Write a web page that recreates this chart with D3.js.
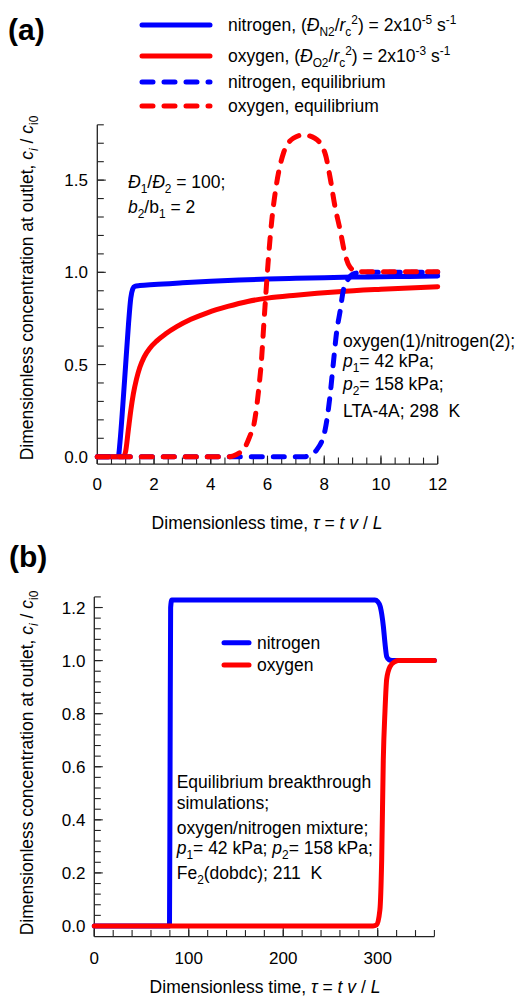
<!DOCTYPE html>
<html><head><meta charset="utf-8">
<script src="https://cdn.jsdelivr.net/npm/d3@7"></script>
<style>
html,body{margin:0;padding:0;background:#fff;}
svg{display:block;font-family:"Liberation Sans",Arial,sans-serif;}
</style></head>
<body>
<svg id="chart" width="521" height="997"></svg>
<script>
// ---------------- Panel (a) data ----------------
const aN2KinTau = [0, 0.74, 0.8, 0.9, 1.0, 1.1, 1.18, 1.25, 1.32, 1.5, 2, 3, 4, 5, 6, 7, 8, 9, 10, 11, 12];
const aN2KinVal = [0, 0, 0.08, 0.28, 0.5, 0.72, 0.86, 0.91, 0.924, 0.928, 0.934, 0.943, 0.951, 0.958, 0.964, 0.968, 0.971, 0.974, 0.976, 0.978, 0.98];
const aO2KinTau = [0, 0.92, 1.0, 1.09, 1.18, 1.27, 1.38, 1.5, 1.65, 1.86, 2.09, 2.4, 2.8, 3.3, 3.9, 4.6, 5.3, 6.0, 7, 8.5, 10, 12];
const aO2KinVal = [0, 0, 0.03, 0.14, 0.25, 0.34, 0.42, 0.485, 0.54, 0.59, 0.627, 0.665, 0.705, 0.745, 0.782, 0.815, 0.842, 0.86, 0.876, 0.895, 0.908, 0.922];
const aN2EqTau = [0, 7.3, 7.5, 7.73, 8.03, 8.2, 8.32, 8.44, 8.56, 8.67, 8.85, 9.1, 9.5, 12];
const aN2EqVal = [0, 0, 0.01, 0.036, 0.145, 0.325, 0.506, 0.68, 0.79, 0.9, 0.965, 0.995, 1.0, 1.0];
const aO2EqTau = [0, 4.6, 4.8, 5.0, 5.2, 5.4, 5.5, 5.6, 5.7, 5.8, 5.85, 5.91, 6.03, 6.15, 6.32, 6.56, 6.91, 7.26, 7.67, 8.03, 8.2, 8.38, 8.56, 8.73, 8.9, 9.14, 9.5, 12];
const aO2EqVal = [0, 0, 0.005, 0.02, 0.05, 0.12, 0.16, 0.25, 0.38, 0.55, 0.67, 0.81, 1.07, 1.28, 1.48, 1.645, 1.727, 1.745, 1.727, 1.645, 1.52, 1.356, 1.23, 1.1, 1.03, 1.005, 1.003, 1.003];
const aXTicks = [0, 2, 4, 6, 8, 10, 12];
const aYTicks = [0, 0.5, 1.0, 1.5];

// ---------------- Panel (b) data ----------------
const bN2Tau = [0, 79.6, 80.2, 80.8, 82, 297, 300, 302.7, 306, 307.7, 309.5, 312, 315, 360];
const bN2Val = [0, 0, 0.6, 1.2, 1.228, 1.228, 1.222, 1.203, 1.128, 1.065, 1.015, 1.003, 1.0, 1.0];
const bO2Tau = [0, 295, 298.9, 302.3, 304.2, 305.9, 307.7, 309.5, 313, 318.3, 322, 360];
const bO2Val = [0, 0, 0.004, 0.06, 0.25, 0.625, 0.81, 0.93, 0.977, 0.996, 1.0, 1.0];
const bXTicks = [0, 100, 200, 300];
const bYTicks = [0, 0.2, 0.4, 0.6, 0.8, 1.0, 1.2];

const BLUE = "#0000ff", RED = "#ff0000";
const svg = d3.select("#chart");

// rich text helper
function rich(parent, x, y, segs, size, opts = {}) {
  const t = parent.append("text").attr("x", x).attr("y", y)
    .attr("font-size", size).attr("fill", "#000");
  if (opts.anchor) t.attr("text-anchor", opts.anchor);
  if (opts.transform) t.attr("transform", opts.transform);
  let cur = 0;
  segs.forEach(s => {
    if (typeof s === "string") s = { t: s };
    const target = s.s === "sub" ? 0.3 * size : s.s === "sup" ? -0.42 * size : 0;
    const ts = t.append("tspan").text(s.t);
    if (target !== cur) { ts.attr("dy", target - cur); cur = target; }
    if (s.s) ts.attr("font-size", size * 0.68);
    if (s.i) ts.attr("font-style", "italic");
  });
  return t;
}

function drawAxes(g, x, y, xMajor, xMinor, yMajor, yMinor, xFmt, yFmt, labelXRight, xLabelY) {
  const [x0, x1] = x.range();
  const [yb, yt] = y.range();
  g.append("line").attr("x1", x0).attr("x2", x1).attr("y1", yb).attr("y2", yb)
    .attr("stroke", "#222").attr("stroke-width", 1.3);
  g.append("line").attr("x1", x0).attr("x2", x0).attr("y1", yb).attr("y2", yt)
    .attr("stroke", "#222").attr("stroke-width", 1.3);
  xMinor.forEach(v => g.append("line").attr("x1", x(v)).attr("x2", x(v)).attr("y1", yb).attr("y2", yb - 6.5)
    .attr("stroke", "#222").attr("stroke-width", 1.1));
  xMajor.forEach(v => {
    g.append("line").attr("x1", x(v)).attr("x2", x(v)).attr("y1", yb).attr("y2", yb - 8.5)
      .attr("stroke", "#222").attr("stroke-width", 1.1);
    g.append("text").attr("x", x(v)).attr("y", xLabelY).attr("text-anchor", "middle")
      .attr("font-size", 17).text(xFmt(v));
  });
  yMinor.forEach(v => g.append("line").attr("x1", x0).attr("x2", x0 + 6.5).attr("y1", y(v)).attr("y2", y(v))
    .attr("stroke", "#222").attr("stroke-width", 1.1));
  yMajor.forEach(v => {
    g.append("line").attr("x1", x0).attr("x2", x0 + 8.5).attr("y1", y(v)).attr("y2", y(v))
      .attr("stroke", "#222").attr("stroke-width", 1.1);
    g.append("text").attr("x", labelXRight).attr("y", y(v) + 6).attr("text-anchor", "end")
      .attr("font-size", 17).text(yFmt(v));
  });
}

function series(g, x, y, tau, val, color, dashed) {
  const pts = tau.map((t, i) => [t, val[i]]);
  const line = d3.line().x(d => x(d[0])).y(d => y(d[1])).curve(d3.curveMonotoneX);
  const p = g.append("path").attr("d", line(pts)).attr("fill", "none")
    .attr("stroke", color).attr("stroke-width", 5)
    .attr("stroke-linecap", "round").attr("stroke-linejoin", "round");
  if (dashed) p.attr("stroke-dasharray", "11,11");
}

const ylabelSegs = ["Dimensionless concentration at outlet, ", { t: "c", i: true }, { t: "i", s: "sub", i: true }, " / ", { t: "c", i: true }, { t: "i0", s: "sub" }];
const xlabelSegs = ["Dimensionless time, ", { t: "τ", i: true }, " = ", { t: "t v", i: true }, " / ", { t: "L", i: true }];

// ================= Panel (a) =================
{
  const g = svg.append("g");
  const x = d3.scaleLinear().domain([0, 12]).range([97.3, 437.7]);
  const y = d3.scaleLinear().domain([-0.04, 1.8]).range([464.1, 124.8]);
  drawAxes(g, x, y, aXTicks, d3.range(0, 12.01, 0.5), aYTicks, d3.range(0, 1.81, 0.1),
    d => d3.format("d")(d), d => d3.format(".1f")(d), 88, 490);

  series(g, x, y, aN2KinTau, aN2KinVal, BLUE, false);
  series(g, x, y, aO2KinTau, aO2KinVal, RED, false);
  series(g, x, y, aN2EqTau, aN2EqVal, BLUE, true);
  series(g, x, y, aO2EqTau, aO2EqVal, RED, true);

  g.append("text").attr("x", 8).attr("y", 40).attr("font-size", 30).attr("font-weight", "bold").text("(a)");

  // legend
  const leg = [
    { c: BLUE, d: false, y: 25, segs: ["nitrogen, (", { t: "Đ", i: true }, { t: "N2", s: "sub" }, "/", { t: "r", i: true }, { t: "c", s: "sub" }, { t: "2", s: "sup" }, ") = 2x10", { t: "-5", s: "sup" }, " s", { t: "-1", s: "sup" }] },
    { c: RED, d: false, y: 56, segs: ["oxygen, (", { t: "Đ", i: true }, { t: "O2", s: "sub" }, "/", { t: "r", i: true }, { t: "c", s: "sub" }, { t: "2", s: "sup" }, ") = 2x10", { t: "-3", s: "sup" }, " s", { t: "-1", s: "sup" }] },
    { c: BLUE, d: true, y: 82, segs: ["nitrogen, equilibrium"] },
    { c: RED, d: true, y: 106, segs: ["oxygen, equilibrium"] }
  ];
  leg.forEach(l => {
    const ln = g.append("line").attr("x1", 142).attr("x2", 210).attr("y1", l.y).attr("y2", l.y)
      .attr("stroke", l.c).attr("stroke-width", 5).attr("stroke-linecap", "round");
    if (l.d) ln.attr("stroke-dasharray", "11,11");
    rich(g, 228, l.y + 6, l.segs, 17.5);
  });

  rich(g, 128, 188, [{ t: "Đ", i: true }, { t: "1", s: "sub" }, "/", { t: "Đ", i: true }, { t: "2", s: "sub" }, " = 100;"], 17.5);
  rich(g, 128, 213, [{ t: "b", i: true }, { t: "2", s: "sub" }, "/b", { t: "1", s: "sub" }, " = 2"], 17.5);

  rich(g, 343, 346.5, ["oxygen(1)/nitrogen(2);"], 17.5);
  rich(g, 343, 367, [{ t: "p", i: true }, { t: "1", s: "sub" }, "= 42 kPa;"], 17.5);
  rich(g, 343, 390, [{ t: "p", i: true }, { t: "2", s: "sub" }, "= 158 kPa;"], 17.5);
  rich(g, 343, 417, ["LTA-4A; 298\u00a0 K"], 17.5);

  rich(g, 267, 529, xlabelSegs, 17.5, { anchor: "middle" });
  rich(g, 0, 0, ylabelSegs, 17.5, { anchor: "middle", transform: "translate(33,288) rotate(-90)" });
}

// ================= Panel (b) =================
{
  const g = svg.append("g");
  const x = d3.scaleLinear().domain([0, 360]).range([94.3, 434.4]);
  const y = d3.scaleLinear().domain([-0.04, 1.24]).range([936.6, 596.9]);
  drawAxes(g, x, y, bXTicks, d3.range(0, 360.1, 20), bYTicks, d3.range(0, 1.241, 0.04),
    d => d3.format("d")(d), d => d3.format(".1f")(d), 85.5, 964);

  series(g, x, y, bN2Tau, bN2Val, BLUE, false);
  series(g, x, y, bO2Tau, bO2Val, RED, false);

  g.append("text").attr("x", 9).attr("y", 567).attr("font-size", 30).attr("font-weight", "bold").text("(b)");

  [{ c: BLUE, y: 642.7, t: "nitrogen" }, { c: RED, y: 665, t: "oxygen" }].forEach(l => {
    g.append("line").attr("x1", 224).attr("x2", 249).attr("y1", l.y).attr("y2", l.y)
      .attr("stroke", l.c).attr("stroke-width", 5).attr("stroke-linecap", "round");
    g.append("text").attr("x", 257).attr("y", l.y + 6).attr("font-size", 17.5).text(l.t);
  });

  rich(g, 176.7, 787.5, ["Equilibrium breakthrough"], 17.5);
  rich(g, 176.7, 808.5, ["simulations;"], 17.5);
  rich(g, 176.7, 834, ["oxygen/nitrogen mixture;"], 17.5);
  rich(g, 176.7, 853.5, [{ t: "p", i: true }, { t: "1", s: "sub" }, "= 42 kPa; ", { t: "p", i: true }, { t: "2", s: "sub" }, "= 158 kPa;"], 17.5);
  rich(g, 176.7, 878.5, ["Fe", { t: "2", s: "sub" }, "(dobdc); 211\u00a0 K"], 17.5);

  rich(g, 265, 993, xlabelSegs, 17.5, { anchor: "middle" });
  rich(g, 0, 0, ylabelSegs, 17.5, { anchor: "middle", transform: "translate(33,763) rotate(-90)" });
}
</script>
</body></html>
